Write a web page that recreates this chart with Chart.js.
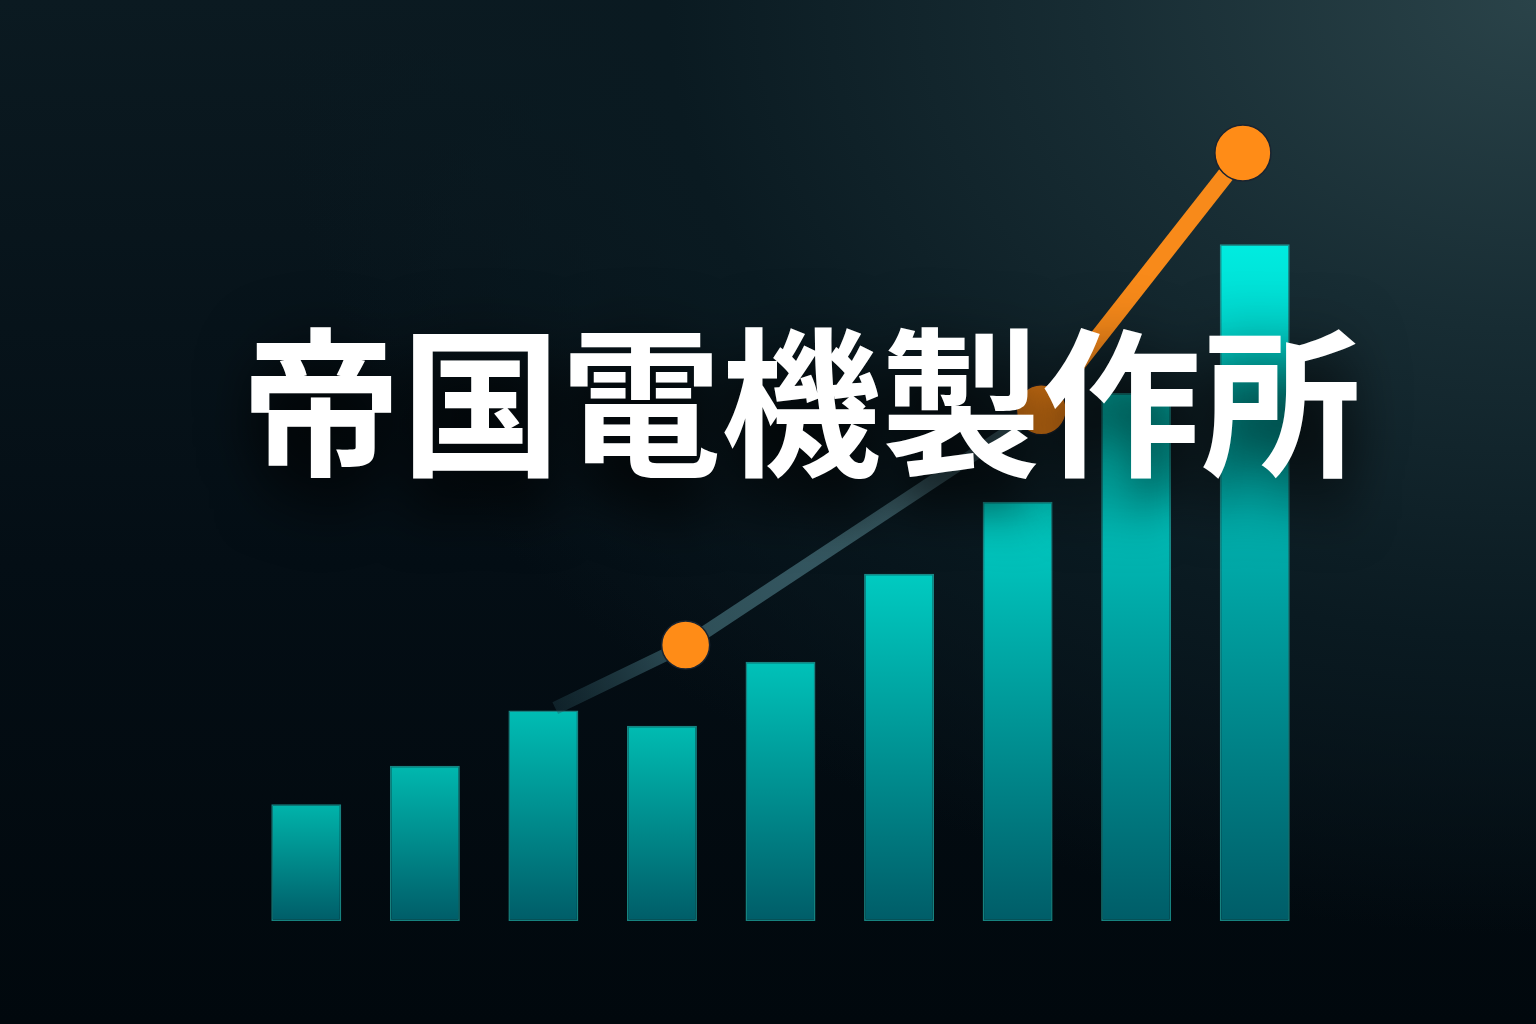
<!DOCTYPE html>
<html lang="ja">
  <head>
    <meta charset="UTF-8" />
    <title>帝国電機製作所</title>
    <script src="https://cdn.jsdelivr.net/npm/chart.js"></script>
    <style>
      html,
      body {
        margin: 0;
        padding: 0;
        width: 1536px;
        height: 1024px;
        overflow: hidden;
      }
      body {
        position: relative;
        background: radial-gradient(
            ellipse 1500px 1100px at 100% 0%,
            #2a4349 0%,
            #172c33 30%,
            #0a1a21 58%,
            rgba(3, 12, 18, 0) 85%
          ),
          linear-gradient(180deg, #0b1a21 0%, #040e15 55%, #01080d 100%);
      }
      #chart {
        position: absolute;
        left: 0;
        top: 0;
      }
      #title {
        position: absolute;
        left: 801px;
        top: 394px;
        transform: translate(-50%, -50%);
        margin: 0;
        font-family: "Noto Sans CJK JP", "Noto Sans", sans-serif;
        font-weight: 700;
        font-size: 160px;
        line-height: 1;
        color: #ffffff;
        white-space: nowrap;
        text-shadow: 0 40px 50px rgba(0, 0, 0, 0.75), 0 0 60px rgba(0, 0, 0, 0.4);
      }
    </style>
  </head>
  <body>
    <canvas id="chart" width="1536" height="1024"></canvas>
    <h1 id="title">帝国電機製作所</h1>

    <script>
      // 棒グラフ（9本）
      const categories = ["1", "2", "3", "4", "5", "6", "7", "8", "9"];
      const barValues = [14.6, 19.4, 26.3, 24.4, 32.4, 43.4, 52.4, 66.0, 84.6];

      // 折れ線（オレンジ）
      const lineX = [2.1, 3.2, 6.2, 7.9];
      const lineValues = [26.6, 34.5, 63.9, 96.0];

      const ctx = document.getElementById("chart").getContext("2d");
      const maxBar = Math.max(...barValues);

      function barGradient(context) {
        const chart = context.chart;
        const y = chart.scales.y;
        if (!y || context.raw == null) return "#00b4ac";
        const top = y.getPixelForValue(context.raw);
        const bottom = y.getPixelForValue(0);
        if (!isFinite(top) || !isFinite(bottom)) return "#00b4ac";
        const t = context.raw / maxBar;
        const g = Math.round(168 + (236 - 168) * t);
        const b = Math.round(160 + (224 - 160) * t);
        const grad = chart.ctx.createLinearGradient(0, top, 0, bottom);
        grad.addColorStop(0, `rgb(0, ${g}, ${b})`);
        grad.addColorStop(1, "#005d68");
        return grad;
      }

      // 前半は薄いグレー、後半はオレンジ
      function segmentColor(seg) {
        if (seg.p0DataIndex >= 2) return "#f88a1a";
        const pts = [seg.p0.x, seg.p0.y, seg.p1.x, seg.p1.y];
        if (!pts.every(isFinite)) return "rgba(60, 100, 110, 0.7)";
        const grad = ctx.createLinearGradient(...pts);
        if (seg.p0DataIndex === 0) {
          grad.addColorStop(0, "rgba(40, 75, 85, 0.35)");
          grad.addColorStop(1, "rgba(60, 100, 110, 0.75)");
        } else {
          grad.addColorStop(0, "rgba(60, 100, 110, 0.75)");
          grad.addColorStop(1, "rgba(80, 120, 130, 0.8)");
        }
        return grad;
      }

      function segmentWidth(seg) {
        return seg.p0DataIndex >= 2 ? 17 : 13;
      }

      new Chart(ctx, {
        data: {
          labels: categories,
          datasets: [
            {
              type: "line",
              data: lineX.map((x, i) => ({ x: x, y: lineValues[i] })),
              xAxisID: "x2",
              order: 0,
              borderWidth: 15,
              borderCapStyle: "butt",
              borderColor: "#f88a1a",
              segment: { borderColor: segmentColor, borderWidth: segmentWidth },
              pointRadius: [0, 24, 25, 28],
              pointBackgroundColor: "#ff8c17",
              pointBorderColor: "#1a2430",
              pointBorderWidth: 1.5,
              tension: 0,
              clip: false,
            },
            {
              type: "bar",
              data: barValues,
              order: 1,
              grouped: false,
              backgroundColor: barGradient,
              borderColor: "rgba(40, 230, 220, 0.55)",
              borderWidth: 1.5,
              borderSkipped: false,
              categoryPercentage: 1,
              barPercentage: 0.59,
            },
          ],
        },
        options: {
          responsive: false,
          animation: false,
          layout: {
            padding: { left: 247, right: 222, top: 121, bottom: 103 },
          },
          plugins: {
            legend: { display: false },
            tooltip: { enabled: false },
          },
          scales: {
            x: { display: false, offset: true },
            x2: { type: "linear", display: false, min: -0.5, max: 8.5 },
            y: { display: false, min: 0, max: 100 },
          },
        },
      });
    </script>
  </body>
</html>
